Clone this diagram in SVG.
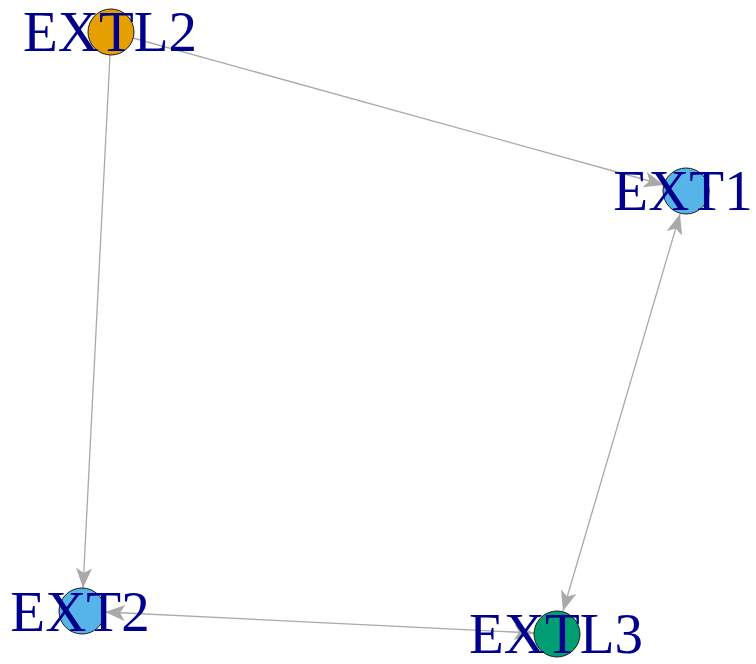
<svg xmlns="http://www.w3.org/2000/svg" width="756" height="664" viewBox="0 0 756 664">
<defs>
<style>
.edge{stroke:#A9A9A9;stroke-width:1.3;fill:none}
.node{stroke:#1a1a1a;stroke-width:1}
.lbl{font-family:"Liberation Serif","Times New Roman",serif;font-size:57px;fill:#00008B;text-anchor:middle}
</style>
<marker id="ah" markerUnits="userSpaceOnUse" markerWidth="24" markerHeight="20" viewBox="-22 -10 24 20" refX="0" refY="0" orient="auto-start-reverse">
<path d="M0,0 L-20,-8 L-15,0 L-20,8 Z" fill="#A9A9A9"/>
</marker>
</defs>
<rect width="756" height="664" fill="#FFFFFF"/>
<g id="connectors">
<line class="edge" x1="133" y1="38" x2="664" y2="185" marker-end="url(#ah)"/>
<line class="edge" x1="110" y1="55" x2="83" y2="588" marker-end="url(#ah)"/>
<line class="edge" x1="680" y1="214" x2="563" y2="611" marker-start="url(#ah)" marker-end="url(#ah)"/>
<line class="edge" x1="534" y1="633" x2="105" y2="612" marker-start="url(#ah)" marker-end="url(#ah)"/>
</g>
<g id="node-EXTL2">
<circle class="node" cx="111" cy="32" r="23" fill="#E69F00"/>
<text class="lbl" x="110" y="51">EXTL2</text>
</g>
<g id="node-EXT1">
<circle class="node" cx="686" cy="191" r="23" fill="#56B4E9"/>
<text class="lbl" x="683" y="210">EXT1</text>
</g>
<g id="node-EXT2">
<circle class="node" cx="82" cy="611" r="23" fill="#56B4E9"/>
<text class="lbl" x="80" y="631">EXT2</text>
</g>
<g id="node-EXTL3">
<circle class="node" cx="557" cy="634" r="23" fill="#009E73"/>
<text class="lbl" x="556" y="653">EXTL3</text>
</g>
</svg>
